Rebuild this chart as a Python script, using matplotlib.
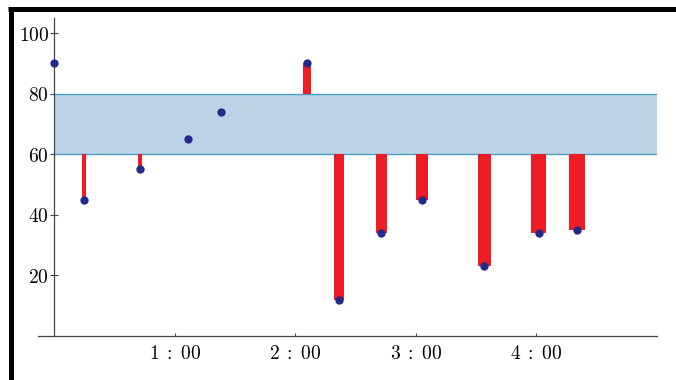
import matplotlib
matplotlib.use('Agg')
import matplotlib.pyplot as plt
from matplotlib.lines import Line2D

plt.rcParams['mathtext.fontset'] = 'cm'

# time in seconds, measured value
times = [0, 14.5, 42.5, 66.5, 83, 125.7, 141.7, 162.7, 183, 214, 241, 260]
values = [90, 45, 55, 65, 74, 90, 12, 34, 45, 23, 34, 35]
# bar widths (seconds) for each point
widths = [0, 2, 2, 0, 0, 3.8, 4.8, 5.3, 6.1, 6.6, 7.1, 8.1]

band_low, band_high = 60, 80
x_end = 300

yticks = [20, 40, 60, 80, 100]
xticks = [60, 120, 180, 240]

fig = plt.figure(figsize=(6.76, 3.8), dpi=100)
ax = fig.add_axes([38 / 676, 44 / 380, (657 - 38) / 676, 318 / 380])

# target band
ax.fill_between([0, x_end], band_low, band_high, color='#bcd3e6', lw=0, zorder=1)
ax.plot([0, x_end], [band_low, band_low], color='#4a9fc6', lw=1, zorder=2)
ax.plot([0, x_end], [band_high, band_high], color='#4a9fc6', lw=1, zorder=2)

# red bars from band edge to value
for t, v, w in zip(times, values, widths):
    if w == 0:
        continue
    if v < band_low:
        ax.bar(t, v - band_low, bottom=band_low, width=w, color='#ee1c25', lw=0, zorder=3)
    elif v > band_high:
        ax.bar(t, v - band_high, bottom=band_high, width=w, color='#ee1c25', lw=0, zorder=3)

ax.scatter(times, values, s=36, color='#25298a', zorder=5, clip_on=False, lw=0)

ax.set_xlim(-8.2, x_end)
ax.set_ylim(0, 105)

for s in ['top', 'right']:
    ax.spines[s].set_visible(False)
ax.spines['left'].set_position(('data', 0))
for s in ['left', 'bottom']:
    ax.spines[s].set_color('#444444')
    ax.spines[s].set_linewidth(0.9)

ax.set_yticks(yticks)
ax.set_yticklabels([r'$%d$' % v for v in yticks])
ax.set_xticks(xticks)
ax.set_xticklabels([r'$%d\;:\;%02d$' % (t // 60, t % 60) for t in xticks])
ax.tick_params(axis='y', direction='inout', length=6, width=0.8, color='#444444',
               labelsize=14, pad=1)
ax.tick_params(axis='x', direction='in', length=2.5, width=0.8, color='#444444',
               labelsize=14, pad=6)

# black frame at top and left
fig.add_artist(Line2D([8 / 676, 1], [1 - 9 / 380, 1 - 9 / 380], color='black', lw=3.6,
                      transform=fig.transFigure, solid_capstyle='butt'))
fig.add_artist(Line2D([10.5 / 676, 10.5 / 676], [0, 1 - 7 / 380], color='black', lw=3.6,
                      transform=fig.transFigure, solid_capstyle='butt'))

fig.savefig('out.png', dpi=100)
